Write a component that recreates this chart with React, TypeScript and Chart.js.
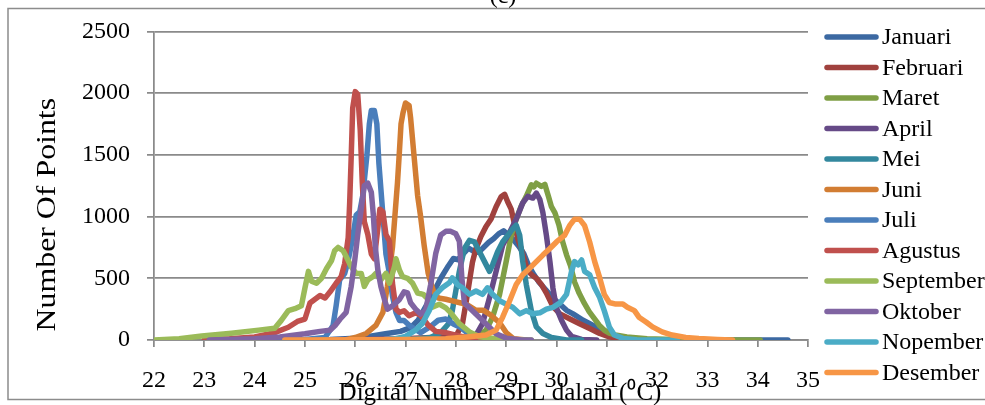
import { useEffect, useRef } from 'react';
import { Chart, registerables } from 'chart.js';

Chart.register(...registerables);

type Pt = [number, number];

const monthNames = ['Januari', 'Februari', 'Maret', 'April', 'Mei', 'Juni', 'Juli', 'Agustus', 'September', 'Oktober', 'Nopember', 'Desember'];
const monthColors = ['#3C69A2', '#A0413E', '#7F9F45', '#664A87', '#33889E', '#D27D33', '#4A7EBB', '#C0504D', '#9BBB59', '#8064A2', '#4BACC6', '#F79646'];

const xTickMin = 22;
const xTickMax = 35;
const yTickMax = 2500;
const yTickStep = 500;

const chartTitle = '(c)';
const xTitle = 'Digital Number SPL dalam (\u2070C)';
const yTitle = 'Number Of Points';

const januari: Pt[] = [[25.0, 0], [25.5, 5], [26.0, 15], [26.3, 30], [26.6, 50], [26.9, 70], [27.1, 100], [27.25, 160], [27.4, 270], [27.55, 380], [27.7, 500], [27.85, 600], [27.95, 660], [28.05, 650], [28.15, 700], [28.25, 745], [28.35, 720], [28.45, 710], [28.55, 750], [28.65, 790], [28.75, 820], [28.85, 860], [28.95, 885], [29.05, 850], [29.15, 810], [29.25, 760], [29.35, 700], [29.45, 600], [29.55, 530], [29.65, 470], [29.8, 400], [29.93, 340], [30.07, 290], [30.2, 240], [30.33, 212], [30.53, 160], [30.72, 120], [30.92, 80], [31.12, 40], [31.38, 13], [31.7, 3], [32.5, 0], [34.6, 0]];
const februari: Pt[] = [[26.5, 0], [27.0, 10], [27.5, 20], [27.8, 25], [28.0, 30], [28.13, 130], [28.23, 370], [28.33, 630], [28.4, 740], [28.5, 840], [28.6, 920], [28.7, 980], [28.8, 1080], [28.9, 1160], [28.97, 1180], [29.03, 1120], [29.1, 1060], [29.17, 930], [29.23, 820], [29.3, 740], [29.37, 640], [29.43, 560], [29.53, 520], [29.6, 500], [29.7, 450], [29.8, 380], [29.93, 270], [30.07, 212], [30.26, 172], [30.46, 132], [30.66, 93], [30.86, 53], [31.05, 26], [31.3, 5], [31.5, 0]];
const maret: Pt[] = [[27.0, 0], [28.0, 5], [28.4, 20], [28.6, 80], [28.73, 185], [28.87, 370], [29.0, 635], [29.1, 847], [29.2, 979], [29.3, 1085], [29.4, 1164], [29.5, 1257], [29.55, 1240], [29.6, 1270], [29.7, 1244], [29.77, 1260], [29.84, 1164], [29.9, 1080], [29.97, 1030], [30.05, 930], [30.12, 800], [30.2, 690], [30.28, 600], [30.36, 470], [30.45, 380], [30.55, 300], [30.65, 230], [30.75, 175], [30.85, 120], [30.95, 80], [31.05, 55], [31.2, 38], [31.4, 25], [31.8, 10], [32.5, 3], [33.0, 0], [34.05, 0]];
const april: Pt[] = [[25.0, 0], [26.0, 5], [27.0, 10], [27.8, 15], [28.2, 25], [28.4, 40], [28.53, 132], [28.67, 344], [28.8, 556], [28.93, 767], [29.07, 873], [29.2, 979], [29.33, 1111], [29.43, 1164], [29.53, 1150], [29.6, 1190], [29.67, 1138], [29.73, 1032], [29.8, 847], [29.87, 635], [29.93, 420], [30.0, 260], [30.1, 160], [30.2, 80], [30.3, 30], [30.5, 5], [30.8, 0]];
const mei: Pt[] = [[27.0, 0], [27.5, 20], [27.7, 60], [27.85, 130], [27.93, 238], [28.0, 400], [28.07, 556], [28.17, 741], [28.27, 807], [28.37, 794], [28.47, 714], [28.57, 635], [28.67, 556], [28.73, 609], [28.83, 714], [28.93, 794], [29.03, 847], [29.13, 900], [29.2, 930], [29.27, 847], [29.33, 635], [29.4, 450], [29.5, 238], [29.6, 106], [29.73, 53], [29.9, 20], [30.2, 0], [30.5, 0]];
const juni: Pt[] = [[25.8, 0], [26.0, 20], [26.22, 53], [26.41, 118], [26.55, 224], [26.64, 434], [26.74, 750], [26.8, 1065], [26.84, 1276], [26.88, 1539], [26.91, 1749], [26.95, 1841], [27.0, 1920], [27.07, 1900], [27.1, 1802], [27.17, 1486], [27.24, 1170], [27.3, 1000], [27.37, 767], [27.45, 540], [27.55, 400], [27.65, 340], [27.8, 330], [27.95, 315], [28.1, 300], [28.25, 280], [28.4, 240], [28.55, 240], [28.7, 200], [28.87, 140], [29.0, 60], [29.15, 10], [29.4, 0]];
const juli: Pt[] = [[24.0, 0], [25.0, 5], [25.4, 20], [25.56, 118], [25.62, 276], [25.69, 487], [25.79, 539], [25.86, 644], [25.95, 828], [26.02, 1013], [26.09, 1039], [26.15, 1170], [26.23, 1486], [26.28, 1749], [26.32, 1860], [26.38, 1860], [26.43, 1749], [26.47, 1433], [26.51, 1223], [26.56, 960], [26.61, 697], [26.68, 539], [26.74, 355], [26.81, 224], [26.88, 158], [26.97, 158], [27.1, 110], [27.3, 60], [27.5, 110], [27.65, 160], [27.8, 170], [27.95, 130], [28.1, 100], [28.25, 50], [28.4, 15], [28.6, 0], [29.0, 0]];
const agustus: Pt[] = [[23.0, 0], [23.5, 10], [24.0, 25], [24.4, 60], [24.67, 103], [24.85, 150], [25.0, 170], [25.1, 300], [25.2, 330], [25.3, 360], [25.4, 340], [25.5, 390], [25.62, 460], [25.72, 513], [25.79, 618], [25.86, 829], [25.89, 1118], [25.92, 1486], [25.95, 1881], [26.0, 2012], [26.05, 1990], [26.1, 1697], [26.14, 1276], [26.18, 960], [26.25, 855], [26.32, 697], [26.38, 658], [26.45, 907], [26.49, 1060], [26.55, 1039], [26.61, 855], [26.68, 802], [26.74, 460], [26.81, 250], [26.88, 224], [26.97, 237], [27.07, 197], [27.2, 220], [27.3, 200], [27.45, 120], [27.6, 70], [27.8, 60], [28.0, 40], [28.2, 20], [28.5, 5], [28.8, 0]];
const september: Pt[] = [[22.0, 0], [22.5, 10], [22.95, 32], [23.54, 55], [24.08, 80], [24.4, 95], [24.53, 159], [24.67, 238], [24.8, 254], [24.93, 278], [25.0, 420], [25.07, 556], [25.13, 476], [25.23, 460], [25.33, 500], [25.43, 579], [25.53, 644], [25.59, 723], [25.66, 750], [25.76, 723], [25.86, 644], [25.92, 592], [26.02, 539], [26.12, 539], [26.18, 434], [26.25, 487], [26.35, 513], [26.41, 539], [26.51, 487], [26.61, 539], [26.68, 460], [26.78, 592], [26.81, 658], [26.88, 565], [26.94, 513], [27.04, 500], [27.14, 460], [27.24, 381], [27.35, 370], [27.45, 330], [27.53, 265], [27.67, 290], [27.8, 260], [27.9, 220], [28.07, 132], [28.27, 66], [28.47, 26], [28.8, 10], [29.2, 3], [29.5, 0]];
const oktober: Pt[] = [[23.1, 0], [24.0, 10], [24.5, 25], [25.0, 50], [25.3, 70], [25.5, 80], [25.6, 118], [25.7, 170], [25.82, 224], [25.92, 434], [25.99, 644], [26.05, 855], [26.12, 1065], [26.18, 1249], [26.25, 1270], [26.32, 1197], [26.36, 1013], [26.4, 750], [26.45, 565], [26.51, 434], [26.58, 329], [26.64, 250], [26.74, 276], [26.88, 329], [26.97, 390], [27.04, 381], [27.1, 302], [27.2, 250], [27.3, 210], [27.4, 238], [27.5, 450], [27.6, 700], [27.7, 850], [27.8, 880], [27.9, 880], [28.0, 860], [28.07, 800], [28.12, 500], [28.17, 300], [28.3, 250], [28.45, 190], [28.6, 130], [28.8, 50], [29.0, 15], [29.3, 0], [29.5, 0]];
const nopember: Pt[] = [[26.5, 0], [26.8, 10], [27.0, 30], [27.2, 80], [27.33, 132], [27.47, 238], [27.6, 370], [27.73, 423], [27.87, 463], [27.93, 503], [28.03, 450], [28.13, 423], [28.27, 370], [28.4, 397], [28.53, 370], [28.63, 423], [28.73, 370], [28.87, 318], [29.0, 291], [29.13, 265], [29.27, 212], [29.4, 238], [29.53, 212], [29.67, 220], [29.8, 250], [29.93, 265], [30.07, 300], [30.2, 370], [30.3, 556], [30.36, 635], [30.43, 609], [30.5, 648], [30.56, 556], [30.66, 529], [30.76, 423], [30.86, 344], [30.95, 238], [31.05, 106], [31.15, 40], [31.32, 13], [31.6, 3], [32.4, 0]];
const desember: Pt[] = [[24.6, 0], [26.0, 3], [27.0, 5], [27.8, 10], [28.27, 26], [28.6, 40], [28.8, 80], [28.93, 185], [29.07, 318], [29.2, 450], [29.33, 529], [29.47, 582], [29.6, 635], [29.73, 688], [29.87, 741], [30.0, 794], [30.16, 847], [30.26, 926], [30.36, 979], [30.46, 979], [30.56, 926], [30.66, 794], [30.76, 635], [30.86, 503], [30.95, 370], [31.05, 304], [31.18, 291], [31.32, 291], [31.41, 265], [31.55, 238], [31.64, 185], [31.78, 146], [31.91, 106], [32.1, 66], [32.3, 40], [32.57, 21], [32.83, 13], [33.2, 5], [33.5, 0]];

const seriesValues: Pt[][] = [januari, februari, maret, april, mei, juni, juli, agustus, september, oktober, nopember, desember];

const FONT = '"Liberation Serif", "Times New Roman", serif';
const GRID = '#8A8A8A';

const decorations = {
  id: 'decorations',
  beforeDraw(chart: any) {
    const ctx = chart.ctx as CanvasRenderingContext2D;
    ctx.save();
    ctx.fillStyle = '#ffffff';
    ctx.fillRect(0, 0, chart.width, chart.height);
    ctx.strokeStyle = '#8C8C8C';
    ctx.lineWidth = 1.5;
    ctx.strokeRect(8, 8.5, 1200, 391);
    ctx.restore();
  },
  afterDraw(chart: any) {
    const ctx = chart.ctx as CanvasRenderingContext2D;
    const area = chart.chartArea;
    ctx.save();
    ctx.fillStyle = '#000';
    ctx.font = `24px ${FONT}`;
    ctx.textAlign = 'center';
    ctx.textBaseline = 'alphabetic';
    ctx.fillText(chartTitle, 503, 3);
    ctx.font = `25px ${FONT}`;
    ctx.fillText(xTitle, 500, 400);
    ctx.save();
    ctx.translate(55, (area.top + area.bottom) / 2 + 29);
    ctx.rotate(-Math.PI / 2);
    ctx.scale(1.18, 1);
    ctx.font = `27px ${FONT}`;
    ctx.textAlign = 'center';
    ctx.fillText(yTitle, 0, 0);
    ctx.restore();
    ctx.font = `24px ${FONT}`;
    ctx.textAlign = 'left';
    ctx.textBaseline = 'middle';
    chart.data.datasets.forEach((ds: any, i: number) => {
      const y = 37 + i * 30.5;
      ctx.strokeStyle = ds.borderColor;
      ctx.lineWidth = 5.5;
      ctx.lineCap = 'round';
      ctx.beginPath();
      ctx.moveTo(827, y);
      ctx.lineTo(876, y);
      ctx.stroke();
      ctx.fillStyle = '#000';
      ctx.fillText(ds.label, 882, y + 1);
    });
    ctx.restore();
  },
};

export default function App() {
  const canvasRef = useRef<HTMLCanvasElement | null>(null);

  useEffect(() => {
    const canvas = canvasRef.current;
    if (!canvas) return;
    const chart = new Chart(canvas, {
      type: 'line',
      data: {
        datasets: seriesValues.map((pts, i) => ({
          label: monthNames[i],
          data: pts.map(([x, y]) => ({ x, y })),
          borderColor: monthColors[i],
          backgroundColor: monthColors[i],
          borderWidth: 5.5,
          pointRadius: 0,
          pointHoverRadius: 0,
          tension: 0,
          fill: false,
          borderJoinStyle: 'round',
          borderCapStyle: 'round',
          order: seriesValues.length - 1 - i,
        })),
      },
      options: {
        responsive: false,
        animation: false,
        events: [],
        layout: { padding: { left: 8, top: 24, right: 177, bottom: 0 } },
        plugins: {
          legend: { display: false },
          tooltip: { enabled: false },
          title: { display: false },
        },
        scales: {
          x: {
            type: 'linear',
            min: xTickMin,
            max: xTickMax,
            ticks: {
              stepSize: 1,
              autoSkip: false,
              maxRotation: 0,
              color: '#000',
              font: { family: FONT, size: 24 },
              padding: 19,
              callback: (v: any) => String(v),
            },
            grid: { drawOnChartArea: false, drawTicks: true, tickLength: 7, color: GRID, lineWidth: 1.75 },
            border: { display: true, color: GRID, width: 1.75 },
            afterFit: (s: any) => { s.height = 65; },
          },
          y: {
            min: 0,
            max: yTickMax,
            ticks: {
              stepSize: yTickStep,
              color: '#000',
              font: { family: FONT, size: 24 },
              padding: 17,
              callback: (v: any) => String(v),
            },
            grid: { color: GRID, lineWidth: 1.75, tickLength: 7 },
            border: { display: true, color: GRID, width: 1.75 },
            afterFit: (s: any) => { s.width = 146; },
          },
        },
      } as any,
      plugins: [decorations],
    });
    return () => chart.destroy();
  }, []);

  return (
    <div style={{ position: 'absolute', left: 0, top: 0, width: 985, height: 405, overflow: 'hidden', background: '#fff' }}>
      <canvas ref={canvasRef} width={985} height={405} style={{ display: 'block' }} />
    </div>
  );
}
